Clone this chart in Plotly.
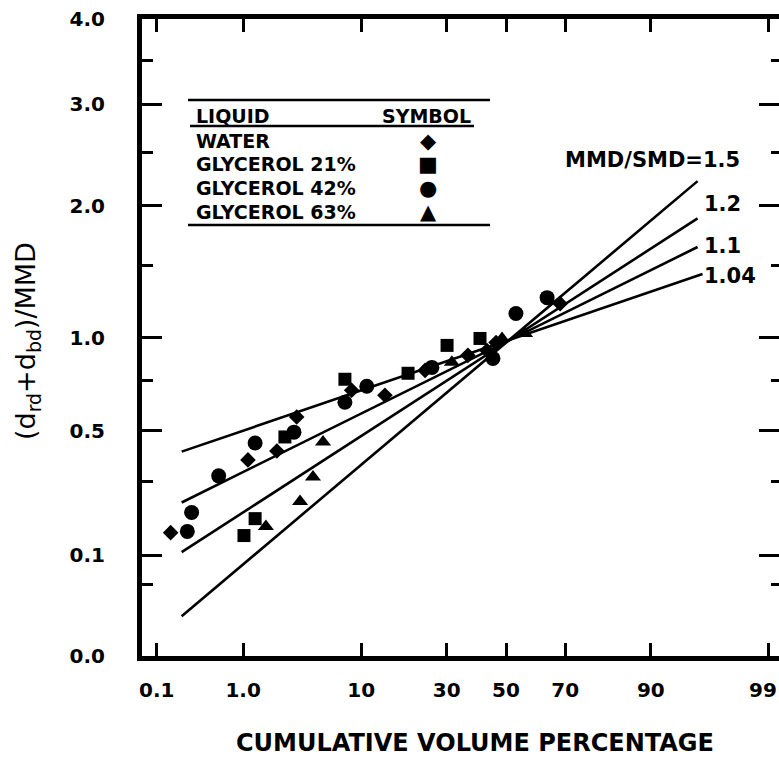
import math
from statistics import NormalDist
import plotly.graph_objects as go

# ---------------- data ----------------
x_tick_pct = [0.1, 1, 10, 30, 50, 70, 90, 99]
x_tick_labels = ["0.1", "1.0", "10", "30", "50", "70", "90", "99"]
y_tick_vals = [0, 0.1, 0.5, 1, 2, 3, 4]
y_tick_labels = ["0.0", "0.1", "0.5", "1.0", "2.0", "3.0", "4.0"]
y_minor_vals = [0.05, 0.3, 0.75, 1.5, 2.5, 3.5]

water_pct = [0.15, 1.12, 2.13, 3.2, 8.6, 14.2, 23.7, 36.8, 43.3, 46.5, 68.4]
water_val = [0.150, 0.379, 0.414, 0.563, 0.696, 0.670, 0.804, 0.891, 0.920, 0.969, 1.224]

gly21_pct = [1.02, 1.32, 2.52, 7.7, 19.3, 30.1, 40.9]
gly21_val = [0.143, 0.186, 0.473, 0.755, 0.788, 0.951, 0.994]

gly42_pct = [0.24, 0.27, 0.55, 1.32, 3.03, 7.7, 10.9, 25.6, 45.4, 53.5, 64.2]
gly42_val = [0.153, 0.203, 0.320, 0.447, 0.494, 0.635, 0.717, 0.821, 0.873, 1.156, 1.266]

gly63_pct = [1.68, 3.42, 4.38, 5.27, 31.6, 48.6, 56.7]
gly63_val = [0.165, 0.235, 0.316, 0.451, 0.850, 0.994, 1.025]

ratio_labels = ["MMD/SMD=1.5", "1.2", "1.1", "1.04"]
line_pct_start = [0.205, 0.205, 0.205, 0.205]
line_pct_end = [95.5, 95.5, 95.5, 95.9]
line_val_start = [0.0156, 0.1063, 0.2323, 0.4117]
line_val_end = [2.223, 1.888, 1.649, 1.438]

legend_names = ["WATER", "GLYCEROL 21%", "GLYCEROL 42%", "GLYCEROL 63%"]
legend_glyphs = ["\u25C6", "\u25A0", "\u25CF", "\u25B2"]

# ---------------- scales ----------------
ND = NormalDist()


def zx(p):
    return ND.inv_cdf(p / 100.0)


def sy(v):
    return math.sqrt(v)


W, H = 779, 758
L, T, B, R = 142, 19, 102, 0
Z0_PX, Z_SCALE = 506.0, 113.0   # pixel of 50 % and pixels per probit unit


def px(x):
    return (x - L) / (W - L - R)


def py(y):
    return (H - B - y) / (H - T - B)


FONT = "DejaVu Sans"
BLACK = "#000000"
TICK_FONT = dict(family=FONT, size=20, color=BLACK, weight="bold")

fig = go.Figure()

# model lines
for i in range(len(ratio_labels)):
    fig.add_trace(go.Scatter(
        x=[zx(line_pct_start[i]), zx(line_pct_end[i])],
        y=[sy(line_val_start[i]), sy(line_val_end[i])],
        mode="lines", line=dict(color=BLACK, width=2.6),
        showlegend=False, hoverinfo="skip"))

series = [
    (water_pct, water_val, "diamond", 12),
    (gly21_pct, gly21_val, "square", 13),
    (gly42_pct, gly42_val, "circle", 15),
    (gly63_pct, gly63_val, "triangle-up", 14),
]
for (pcts, vals, sym, size), name in zip(series, legend_names):
    fig.add_trace(go.Scatter(
        x=[zx(p) for p in pcts], y=[sy(v) for v in vals],
        mode="markers", name=name,
        marker=dict(symbol=sym, size=size, color=BLACK, line=dict(width=0)),
        showlegend=False))

# dummy trace for right-side tick axis
fig.add_trace(go.Scatter(x=[None], y=[None], yaxis="y2", showlegend=False))

annotations = []
shapes = []

# legend box lines
for (x0, x1, y) in [(188, 490, 100), (190, 474, 126), (188, 490, 225)]:
    shapes.append(dict(type="line", xref="paper", yref="paper",
                       x0=px(x0), x1=px(x1), y0=py(y), y1=py(y),
                       line=dict(color=BLACK, width=2.5)))

LEG_FONT = dict(family=FONT, size=19, color=BLACK, weight="bold")
annotations.append(dict(text="LIQUID", xref="paper", yref="paper", x=px(194), y=py(116),
                        xanchor="left", yanchor="middle", showarrow=False, font=LEG_FONT))
annotations.append(dict(text="SYMBOL", xref="paper", yref="paper", x=px(473), y=py(116),
                        xanchor="right", yanchor="middle", showarrow=False, font=LEG_FONT))
row_y = [141, 164, 188, 212]
for name, glyph, yy in zip(legend_names, legend_glyphs, row_y):
    annotations.append(dict(text=name, xref="paper", yref="paper", x=px(194), y=py(yy),
                            xanchor="left", yanchor="middle", showarrow=False, font=LEG_FONT))
    annotations.append(dict(text=glyph, xref="paper", yref="paper", x=px(428), y=py(yy),
                            xanchor="center", yanchor="middle", showarrow=False,
                            font=dict(family=FONT, size=21, color=BLACK)))

# line labels
lab_pos = [(742, 160, "right"), (702, 204, "left"), (702, 246, "left"), (702, 276, "left")]
for txt, (xx, yy, anc) in zip(ratio_labels, lab_pos):
    annotations.append(dict(text=txt, xref="paper", yref="paper", x=px(xx), y=py(yy),
                            xanchor=anc, yanchor="middle", showarrow=False,
                            font=dict(family=FONT, size=21, color=BLACK, weight="bold")))

# last x tick label sits at the right edge of the page: placed as an annotation
annotations.append(dict(text=x_tick_labels[-1], xref="paper", yref="paper",
                        x=px(763), y=py(690), xanchor="center", yanchor="middle",
                        showarrow=False, font=TICK_FONT))

# axis titles
annotations.append(dict(text="CUMULATIVE VOLUME PERCENTAGE", xref="paper", yref="paper",
                        x=px(475), y=py(743), xanchor="center", yanchor="middle",
                        showarrow=False,
                        font=dict(family=FONT, size=24, color=BLACK, weight="bold")))
annotations.append(dict(text="(d<sub>rd</sub>+d<sub>bd</sub>)/MMD", xref="paper", yref="paper",
                        x=px(27), y=py(341), xanchor="center", yanchor="middle",
                        textangle=-90, showarrow=False,
                        font=dict(family=FONT, size=27, color=BLACK)))

x_left = (L - Z0_PX) / Z_SCALE
x_right = (W - R - Z0_PX) / Z_SCALE

fig.update_layout(
    width=W, height=H, autosize=False,
    margin=dict(l=L, r=R, t=T, b=B, pad=0),
    paper_bgcolor="white", plot_bgcolor="white",
    showlegend=False,
    xaxis=dict(range=[x_left, x_right],
               tickmode="array", tickvals=[zx(p) for p in x_tick_pct],
               ticktext=x_tick_labels[:-1] + [""],
               ticks="inside", ticklen=13, tickwidth=3, tickcolor=BLACK,
               showline=True, linewidth=5, linecolor=BLACK, mirror="ticks",
               showgrid=False, zeroline=False, ticklabelstandoff=12,
               tickfont=TICK_FONT),
    yaxis=dict(range=[0, 2],
               tickmode="array", tickvals=[sy(v) for v in y_tick_vals], ticktext=y_tick_labels,
               ticks="inside", ticklen=20, tickwidth=3, tickcolor=BLACK,
               minor=dict(tickmode="array", tickvals=[sy(v) for v in y_minor_vals],
                          ticks="inside", ticklen=11, tickwidth=3, tickcolor=BLACK,
                          showgrid=False),
               showline=True, linewidth=5, linecolor=BLACK, mirror=False,
               showgrid=False, zeroline=False, ticklabelstandoff=28,
               tickfont=TICK_FONT),
    yaxis2=dict(range=[0, 2], overlaying="y", side="right", anchor="x",
                tickmode="array", tickvals=[sy(v) for v in y_tick_vals],
                showticklabels=False,
                ticks="inside", ticklen=20, tickwidth=3, tickcolor=BLACK,
                minor=dict(tickmode="array", tickvals=[sy(v) for v in y_minor_vals],
                           ticks="inside", ticklen=8, tickwidth=3, tickcolor=BLACK,
                           showgrid=False),
                showline=False, showgrid=False, zeroline=False),
    annotations=annotations,
    shapes=shapes,
)

fig.write_html(
    "out.html",
    config={"displayModeBar": False, "responsive": False},
    post_script="document.body.style.margin='0px';document.body.style.overflow='hidden';",
)
